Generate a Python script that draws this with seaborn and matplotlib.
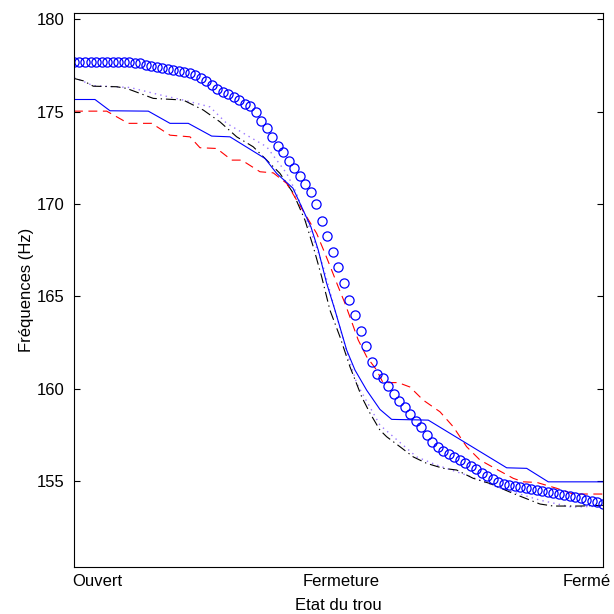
import numpy as np
import pandas as pd
import matplotlib
matplotlib.use("Agg")
import matplotlib.pyplot as plt
import seaborn as sns

# ---------------- data ----------------
x_labels = ["Ouvert", "Fermeture", "Fermé"]
y_ticks = [155, 160, 165, 170, 175, 180]

# blue circles (evenly spaced along the hole state axis)
circle_vals = [
    177.69, 177.69, 177.69, 177.69, 177.69, 177.69, 177.69, 177.69, 177.69, 177.69,
    177.69, 177.65, 177.60, 177.53, 177.45, 177.39, 177.34, 177.29, 177.24, 177.19,
    177.14, 177.07, 176.98, 176.81, 176.63, 176.42, 176.23, 176.08, 175.93, 175.78,
    175.61, 175.43, 175.28, 174.99, 174.46, 174.12, 173.62, 173.16, 172.80, 172.33,
    171.94, 171.50, 171.06, 170.62, 169.99, 169.10, 168.28, 167.39, 166.56, 165.71,
    164.81, 163.98, 163.13, 162.29, 161.42, 160.81, 160.58, 160.12, 159.72, 159.36,
    158.99, 158.61, 158.27, 157.91, 157.52, 157.11, 156.86, 156.65, 156.47, 156.31,
    156.16, 155.98, 155.83, 155.63, 155.44, 155.25, 155.09, 154.96, 154.86, 154.81,
    154.75, 154.69, 154.63, 154.58, 154.53, 154.48, 154.43, 154.37, 154.31, 154.27,
    154.22, 154.16, 154.07, 153.99, 153.91, 153.85, 153.77,
]

# blue solid line
blue_x = [0, 0.0397, 0.0681, 0.1405, 0.1815, 0.2161, 0.2603, 0.2949, 0.3611, 0.3832,
          0.4140, 0.4480, 0.4618, 0.4777, 0.4934, 0.5155, 0.5312, 0.5533, 0.5784, 0.6006,
          0.6698, 0.8180, 0.8558, 0.8966, 1.0]
blue_y = [175.65, 175.65, 175.04, 175.02, 174.36, 174.36, 173.67, 173.63, 172.46, 171.65,
          170.85, 168.75, 167.50, 165.70, 164.25, 162.09, 161.01, 159.92, 158.88, 158.34,
          158.30, 155.72, 155.69, 154.96, 154.96]

# red dashed line
red_x = [0, 0.0618, 0.1026, 0.1469, 0.1815, 0.2193, 0.2382, 0.2698, 0.2981, 0.3170,
         0.3516, 0.3767, 0.4021, 0.4399, 0.4588, 0.4745, 0.4871, 0.4996, 0.5123, 0.5250,
         0.5374, 0.5533, 0.5722, 0.5841, 0.6130, 0.6352, 0.6603, 0.6919, 0.7170, 0.7423,
         0.7675, 0.7958, 0.8304, 0.8493, 0.8747, 0.9125, 0.9439, 1.0]
red_y = [175.02, 175.02, 174.36, 174.36, 173.72, 173.63, 173.04, 173.00, 172.37, 172.37,
         171.74, 171.68, 171.11, 169.30, 168.40, 167.32, 166.42, 165.51, 164.62, 163.62,
         162.63, 161.73, 161.01, 160.33, 160.33, 160.09, 159.38, 158.75, 157.94, 156.86,
         156.14, 155.69, 155.15, 154.96, 154.93, 154.61, 154.30, 154.30]

# black dash-dot line
black_x = [0, 0.0176, 0.0365, 0.0807, 0.0996, 0.1499, 0.1877, 0.2066, 0.2444, 0.2760,
           0.3076, 0.3389, 0.3643, 0.3894, 0.4146, 0.4367, 0.4524, 0.4682, 0.4839, 0.5028,
           0.5217, 0.5439, 0.5595, 0.5784, 0.5911, 0.6163, 0.6414, 0.6667, 0.6981, 0.7234,
           0.7548, 0.7864, 0.8304, 0.8809, 0.9060, 0.9565, 1.0]
black_y = [176.79, 176.66, 176.37, 176.34, 176.25, 175.71, 175.65, 175.62, 175.08, 174.44,
           173.63, 173.09, 172.37, 171.65, 170.58, 169.12, 167.68, 166.06, 164.25, 162.81,
           161.19, 159.56, 158.68, 157.76, 157.40, 156.86, 156.31, 155.96, 155.69, 155.60,
           155.15, 154.87, 154.33, 153.76, 153.65, 153.65, 153.69]

# violet dotted line
violet_x = [0, 0.0359, 0.1059, 0.1626, 0.2098, 0.2571, 0.2887, 0.3265, 0.3643, 0.3832,
            0.4021, 0.4178, 0.4367, 0.4713, 0.4934, 0.5185, 0.5344, 0.5784, 0.6478, 0.6856,
            0.7423, 0.8053, 0.8809, 0.9414, 1.0]
violet_y = [176.85, 176.40, 176.30, 175.90, 175.60, 175.25, 174.36, 173.72, 173.09, 172.37,
            171.65, 170.75, 169.39, 166.60, 164.25, 161.73, 160.29, 158.03, 156.31, 155.87,
            155.32, 154.62, 153.97, 153.59, 153.65]

# ---------------- figure ----------------
sns.set_style("white")
plt.rcParams["font.family"] = ["Liberation Sans", "DejaVu Sans"]

fig = plt.figure(figsize=(6.14, 6.14), dpi=100)
ax = fig.add_axes([0.1205, 0.0765, 0.8615, 0.9023])

circle_x = np.linspace(0, 1, len(circle_vals))
df_c = pd.DataFrame({"etat": circle_x, "freq": circle_vals})

sns.lineplot(x=violet_x, y=violet_y, ax=ax, color="#9b78ff", linewidth=1.0,
             linestyle=(0, (1, 3)), sort=False, estimator=None)
sns.lineplot(x=black_x, y=black_y, ax=ax, color="black", linewidth=0.8,
             linestyle=(0, (9, 3.5, 1.2, 3.5)), sort=False, estimator=None)
sns.lineplot(x=red_x, y=red_y, ax=ax, color="red", linewidth=0.8,
             linestyle=(0, (8, 5)), sort=False, estimator=None)
sns.lineplot(x=blue_x, y=blue_y, ax=ax, color="blue", linewidth=0.8,
             linestyle="-", sort=False, estimator=None)
sns.lineplot(data=df_c, x="etat", y="freq", ax=ax, color="blue", linestyle="none",
             marker="o", markersize=6.6, markerfacecolor="none",
             markeredgecolor="blue", markeredgewidth=0.9, sort=False, estimator=None)

ax.set_xlim(0, 1)
ax.set_ylim(150.35, 180.33)
ax.set_yticks(y_ticks)
ax.set_yticklabels([str(t) for t in y_ticks])
ax.set_xticks([])
ax.tick_params(axis="y", direction="in", length=4, width=0.8, left=True, right=True,
               labelsize=12, pad=7, colors="black")
for sp in ax.spines.values():
    sp.set_visible(True)
    sp.set_color("black")
    sp.set_linewidth(0.8)

for lab, xp, ha in zip(x_labels, [-0.004, 0.505, 0.924], ["left", "center", "left"]):
    ax.text(xp, -0.0253, lab, transform=ax.transAxes, ha=ha, va="center",
            fontsize=12, color="black")

ax.set_xlabel("Etat du trou", fontsize=12, labelpad=22, color="black")
ax.set_ylabel("Fréquences (Hz)", fontsize=12, labelpad=2, color="black")

fig.savefig("out.png", dpi=100)
